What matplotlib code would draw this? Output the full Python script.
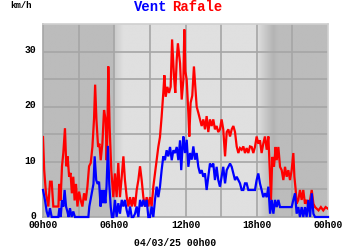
import numpy as np
import matplotlib
matplotlib.use("Agg")
import matplotlib.pyplot as plt
import matplotlib.transforms as mtransforms

# ---- data (hours since 04/03/25 00h00, km/h) ----
gust_h = [0.00, 0.10, 0.25, 0.45, 0.59, 0.73, 0.87, 1.00, 1.15, 1.30, 1.36, 1.48, 1.60, 1.71, 1.85, 1.96,
          2.07, 2.20, 2.32, 2.43, 2.55, 2.66, 2.78, 2.90, 3.04, 3.18, 3.32, 3.46, 3.60, 3.74, 3.88, 4.02,
          4.16, 4.30, 4.39, 4.50, 4.64, 4.75, 4.86, 5.00, 5.14, 5.28, 5.36, 5.42, 5.50, 5.61, 5.75, 5.92,
          6.06, 6.20, 6.34, 6.48, 6.63, 6.77, 6.90, 7.05, 7.19, 7.33, 7.47, 7.61, 7.75, 7.89, 8.03, 8.17,
          8.31, 8.45, 8.59, 8.73, 8.87, 9.01, 9.15, 9.29, 9.43, 9.57, 9.71, 9.85, 9.99, 10.13, 10.22, 10.33,
          10.47, 10.61, 10.75, 10.87, 11.03, 11.14, 11.26, 11.36, 11.54, 11.68, 11.82, 11.90, 11.99, 12.10,
          12.24, 12.32, 12.43, 12.57, 12.71, 12.83, 12.94, 13.08, 13.22, 13.36, 13.50, 13.64, 13.78, 13.92,
          14.06, 14.20, 14.34, 14.48, 14.62, 14.76, 14.90, 15.04, 15.18, 15.33, 15.47, 15.61, 15.75, 15.89,
          16.03, 16.17, 16.31, 16.45, 16.59, 16.73, 16.87, 17.01, 17.15, 17.29, 17.43, 17.57, 17.71, 17.85,
          17.99, 18.13, 18.27, 18.41, 18.55, 18.69, 18.84, 18.98, 19.12, 19.20, 19.31, 19.45, 19.59, 19.68,
          19.82, 19.96, 20.10, 20.24, 20.38, 20.52, 20.66, 20.80, 20.94, 21.08, 21.17, 21.28, 21.36, 21.50,
          21.64, 21.78, 21.92, 22.06, 22.20, 22.35, 22.49, 22.63, 22.77, 22.91, 23.05, 23.20, 23.40, 23.60,
          23.80, 24.00]
gust_v = [14.5, 8.5, 4.3, 1.9, 6.4, 6.4, 1.9, 1.9, 1.9, 1.9, 6.0, 3.0, 9.2, 11.6, 16.1, 9.2,
          11.0, 7.3, 8.0, 4.3, 7.3, 3.0, 6.0, 1.9, 4.6, 3.0, 1.9, 4.3, 3.0, 5.5, 9.2, 9.8,
          12.7, 17.9, 24.0, 17.6, 12.7, 13.3, 10.3, 13.3, 19.4, 17.6, 10.3, 15.0, 27.3, 16.4, 8.5, 3.6,
          7.9, 3.6, 9.8, 3.6, 7.3, 11.0, 6.7, 3.6, 1.9, 3.6, 1.9, 3.6, 1.9, 4.9, 6.7, 9.2,
          6.7, 3.6, 1.9, 3.6, 1.9, 3.6, 1.9, 5.5, 7.9, 10.3, 12.7, 14.5, 18.2, 22.5, 25.7, 21.8,
          23.6, 22.5, 23.6, 32.2, 25.5, 22.5, 28.5, 31.5, 27.9, 21.3, 24.9, 34.0, 26.4, 24.9,
          18.9, 14.6, 20.7, 22.0, 27.3, 23.6, 20.0, 18.9, 17.7, 16.5, 17.7, 15.9, 18.3, 15.4,
          17.7, 16.5, 17.7, 15.9, 16.5, 15.4, 15.9, 17.7, 15.9, 11.0, 15.4, 15.9, 14.6, 15.9,
          16.5, 15.4, 12.8, 11.6, 12.5, 12.2, 12.8, 11.6, 12.5, 11.6, 12.8, 12.7, 11.6, 12.7,
          14.6, 13.3, 13.9, 11.6, 13.3, 14.6, 12.2, 14.6, 7.3, 3.1, 10.9, 9.1, 12.7, 10.3,
          12.7, 9.1, 8.5, 6.7, 9.1, 7.3, 8.5, 6.7, 8.5, 11.6, 7.3, 4.9, 2.4, 3.1,
          4.9, 3.1, 4.9, 2.4, 3.1, 1.8, 3.1, 4.9, 2.4, 1.8, 1.5, 1.2, 1.8, 1.2,
          1.8, 1.5]

wind_h = [0.00, 0.17, 0.31, 0.45, 0.59, 0.73, 0.87, 1.29, 1.38, 1.49, 1.60, 1.71, 1.82, 1.94, 2.05, 2.16,
          2.27, 2.41, 2.55, 2.69, 3.82, 3.90, 4.10, 4.25, 4.35, 4.48, 4.60, 4.72, 4.85, 4.95, 5.05, 5.15,
          5.25, 5.35, 5.47, 5.58, 5.70, 5.80, 5.92, 6.06, 6.20, 6.34, 6.48, 6.63, 6.77, 6.90, 7.05, 7.19,
          7.33, 7.47, 7.61, 7.75, 7.89, 8.03, 8.17, 8.31, 8.45, 8.59, 8.73, 8.87, 9.01, 9.15, 9.29, 9.43,
          9.57, 9.71, 9.85, 9.99, 10.13, 10.27, 10.41, 10.55, 10.70, 10.84, 10.98, 11.12, 11.26, 11.40,
          11.54, 11.64, 11.75, 11.82, 11.96, 12.10, 12.24, 12.38, 12.52, 12.66, 12.80, 12.94, 13.08, 13.22,
          13.36, 13.50, 13.64, 13.78, 13.92, 14.06, 14.20, 14.34, 14.48, 14.62, 14.76, 14.90, 15.04, 15.18,
          15.33, 15.47, 15.61, 15.75, 15.89, 16.03, 16.17, 16.31, 16.45, 16.59, 16.73, 16.87, 17.01, 17.15,
          17.29, 17.71, 17.85, 17.99, 18.13, 18.27, 18.41, 18.55, 18.69, 18.84, 18.98, 19.12, 19.26, 19.40,
          19.54, 19.68, 19.82, 19.96, 20.94, 21.08, 21.22, 21.36, 21.50, 21.64, 21.78, 21.92, 22.06, 22.20,
          22.35, 22.49, 22.63, 22.77, 22.91, 24.00]
wind_v = [4.9, 3.0, 1.0, 0.0, 1.6, 0.0, 0.0, 0.0, 1.6, 0.0, 3.0, 1.9, 4.9, 1.9, 1.0, 0.0,
          1.6, 0.0, 1.0, 0.0, 0.0, 1.9, 4.3, 6.0, 11.0, 6.7, 6.0, 6.4, 1.9, 4.9, 2.5, 4.9,
          2.5, 5.5, 12.9, 6.0, 1.9, 0.0, 0.0, 3.1, 0.0, 2.5, 0.6, 3.1, 1.9, 3.1, 1.2, 0.0,
          1.9, 0.0, 0.0, 0.6, 1.9, 0.0, 3.1, 1.9, 3.1, 1.9, 3.1, 0.0, 0.0, 1.9, 0.0, 3.1,
          5.5, 3.6, 5.5, 8.5, 11.0, 10.3, 12.1, 11.0, 12.7, 10.3, 12.1, 11.6, 12.7, 10.3,
          13.9, 8.5, 12.7, 14.6, 11.6, 14.0, 9.1, 11.6, 10.4, 12.8, 10.4, 11.6, 9.1, 7.9,
          8.5, 7.3, 7.9, 4.9, 7.3, 9.7, 9.1, 9.7, 6.7, 9.1, 6.7, 5.5, 7.3, 9.1,
          6.1, 8.5, 9.1, 9.7, 9.1, 7.9, 6.7, 7.3, 6.7, 6.1, 4.9, 4.9, 6.1, 6.1,
          4.9, 4.9, 4.9, 6.7, 7.9, 6.1, 4.9, 3.6, 4.3, 3.6, 5.5, 0.6, 3.1, 0.6,
          3.1, 1.8, 3.1, 1.8, 1.8, 3.1, 4.3, 0.6, 1.8, 0.0, 1.8, 0.0, 1.8, 0.0,
          3.1, 0.0, 4.3, 0.6, 0.0, 0.0]

xtick_h = [0, 6, 12, 18, 24]
xtick_labels = ["00h00", "06h00", "12h00", "18h00", "00h00"]
ytick_v = [0, 10, 20, 30]
date_label = "04/03/25 00h00"
unit_label = "km/h"

# ---- figure ----
fig = plt.figure(figsize=(3.5, 2.5), dpi=100)
ax = fig.add_axes([43/350, 1-217/250, 285/350, 193/250])
ax.set_xlim(0, 24)
ax.set_ylim(0, 35)

# day/night shading with gradients
dark, light = 0.735, 0.878
xs = np.linspace(0, 24, 1200)
shade = np.full_like(xs, dark)
m0 = (xs >= 6.0) & (xs < 6.8)
shade[m0] = dark + 0.06 + (light - dark - 0.06) * (xs[m0] - 6.0) / 0.8
shade[(xs >= 6.8) & (xs < 18.0)] = light
m = (xs >= 18.0) & (xs < 19.4)
shade[m] = light + (dark - 0.03 - light) * (xs[m] - 18.0) / 1.4
m2 = (xs >= 19.4) & (xs < 19.8)
shade[m2] = dark - 0.03 + 0.03 * (xs[m2] - 19.4) / 0.4
ax.imshow(shade[np.newaxis, :], aspect="auto", cmap="gray", vmin=0, vmax=1,
          extent=[0, 24, 0, 35], zorder=0, interpolation="bilinear")

# grid
for h in np.arange(3, 24, 3):
    ax.axvline(h, color="#a6a6a6", lw=1.2, zorder=1)
for v in np.arange(5, 35, 5):
    ax.axhline(v, color="#a6a6a6", lw=1.2, zorder=1)

ax.plot(gust_h, gust_v, color="#ff0000", lw=1.6, zorder=3, solid_joinstyle="miter")
ax.plot(wind_h, wind_v, color="#0000ff", lw=1.6, zorder=4, clip_on=False, solid_joinstyle="miter")

for s in ["top", "right"]:
    ax.spines[s].set_color("#d0d0d0")
    ax.spines[s].set_linewidth(1.2)
for s in ["left", "bottom"]:
    ax.spines[s].set_color("#a6a6a6")
    ax.spines[s].set_linewidth(1.2)

font = dict(family="Liberation Mono", weight="bold")
ax.set_xticks(xtick_h)
ax.set_xticklabels(xtick_labels, fontsize=7, **font)
ax.set_yticks(ytick_v)
ax.set_yticklabels([str(v) for v in ytick_v], fontsize=7, **font)
ax.tick_params(axis="x", length=0, pad=2.5)
ax.tick_params(axis="y", length=0, pad=5)
shift_up = mtransforms.ScaledTranslation(0, 1.6 / 72, fig.dpi_scale_trans)
for lbl in ax.get_yticklabels():
    lbl.set_transform(lbl.get_transform() + shift_up)

fig.text(175/350, 1-243/250, date_label, ha="center", va="center", fontsize=7, **font)
fig.text(10/350, 1-6/250, unit_label, ha="left", va="center", fontsize=6.5, **font)
fig.text(167/350, 1-7/250, "Vent", ha="right", va="center", fontsize=10, color="#0000ff", **font)
fig.text(172/350, 1-7/250, "Rafale", ha="left", va="center", fontsize=10, color="#ff0000", **font)

fig.savefig("out.png", dpi=100)
